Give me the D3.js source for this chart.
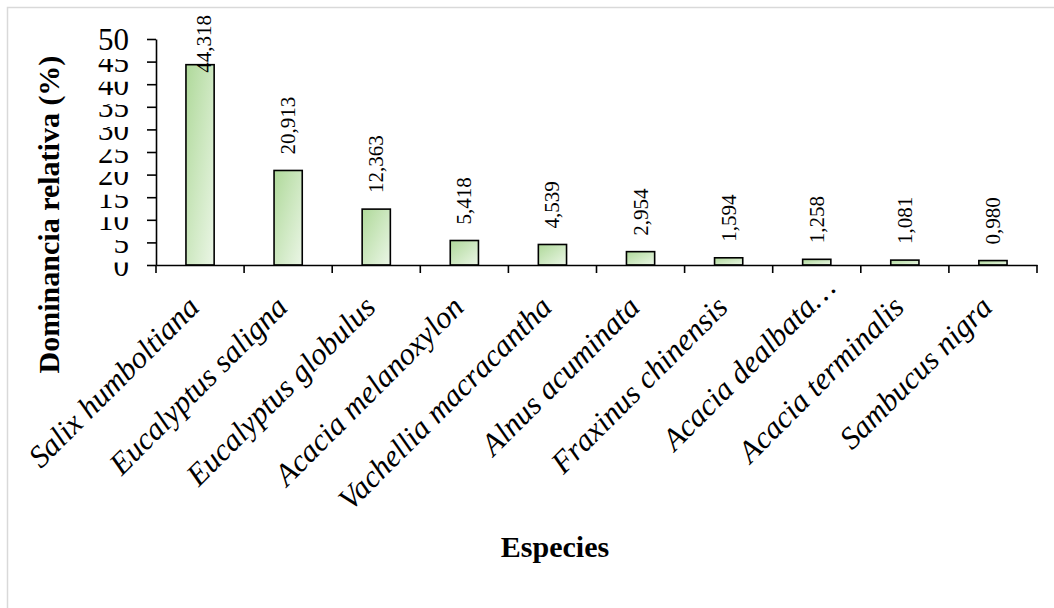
<!DOCTYPE html>
<html>
<head>
<meta charset="utf-8">
<script src="https://cdn.jsdelivr.net/npm/d3@7"></script>
<style>
  html, body { margin: 0; padding: 0; background: #fff; }
  svg { display: block; }
</style>
</head>
<body>
<svg id="chart" width="1054" height="608"></svg>
<script>
const categories = [
  "Salix humboltiana", "Eucalyptus saligna", "Eucalyptus globulus",
  "Acacia melanoxylon", "Vachellia macracantha", "Alnus acuminata",
  "Fraxinus chinensis", "Acacia dealbata …", "Acacia terminalis", "Sambucus nigra"
];
const values = [44.318, 20.913, 12.363, 5.418, 4.539, 2.954, 1.594, 1.258, 1.081, 0.980];
const yTicks = [0, 5, 10, 15, 20, 25, 30, 35, 40, 45, 50];
const yTitle = "Dominancia relativa (%)";
const xTitle = "Especies";

const svg = d3.select("#chart");
const serif = "'Liberation Serif', 'Times New Roman', 'DejaVu Serif', serif";

// outer frame
svg.append("rect")
  .attr("x", 7.5).attr("y", 7.5).attr("width", 1070).attr("height", 640)
  .attr("fill", "#fff").attr("stroke", "#d9d9d9").attr("stroke-width", 1.5);

const x = d3.scaleBand().domain(categories).range([156, 1037])
  .paddingInner(0.68).paddingOuter(0.34);
const y = d3.scaleLinear().domain([0, 50]).range([265, 39]);

const fmt = d3.formatLocale({decimal: ",", thousands: ".", grouping: [3], currency: ["", ""]}).format(".3f");

const defs = svg.append("defs");
const grad = defs.append("linearGradient").attr("id", "barGrad")
  .attr("x1", 0).attr("y1", 0).attr("x2", 1).attr("y2", 1);
grad.append("stop").attr("offset", "0%").attr("stop-color", "#afd99a");
grad.append("stop").attr("offset", "100%").attr("stop-color", "#ebf6e6");

defs.append("clipPath").attr("id", "tickClip")
  .append("rect").attr("x", -200).attr("y", -3).attr("width", 200).attr("height", 30);

// bars
svg.append("g").selectAll("rect").data(values).join("rect")
  .attr("x", (d, i) => x(categories[i]))
  .attr("y", d => y(d))
  .attr("width", x.bandwidth())
  .attr("height", d => y(0) - y(d))
  .attr("fill", "url(#barGrad)")
  .attr("stroke", "#000").attr("stroke-width", 1.6);

// y axis
const yAxis = svg.append("g").attr("transform", "translate(156,0)")
  .call(d3.axisLeft(y).tickValues(yTicks).tickSize(9).tickSizeOuter(0).tickPadding(27));
yAxis.select(".domain").attr("stroke", "#000").attr("stroke-width", 1.6);
yAxis.selectAll(".tick line").attr("stroke", "#000").attr("stroke-width", 1.6);
yAxis.selectAll(".tick text")
  .attr("x", -27).attr("y", 10).attr("dy", null)
  .attr("text-anchor", "end")
  .style("font-family", serif).style("font-size", "31px").attr("fill", "#000")
  .attr("clip-path", d => d === 50 ? null : "url(#tickClip)");

// x axis
const xAxis = svg.append("g").attr("transform", "translate(0,265)")
  .call(d3.axisBottom(x).tickSize(0).tickSizeOuter(0).tickFormat(""));
xAxis.select(".domain").attr("stroke", "#000").attr("stroke-width", 1.6);
xAxis.selectAll(".tick").remove();
const bounds = d3.range(categories.length + 1).map(i => x.range()[0] + i * x.step());
xAxis.selectAll("line.bnd").data(bounds).join("line").attr("class", "bnd")
  .attr("x1", d => d).attr("x2", d => d).attr("y1", 0).attr("y2", 8)
  .attr("stroke", "#000").attr("stroke-width", 1.6);

// category labels
const catG = svg.append("g");
categories.forEach((c, i) => {
  const cx = x(c) + x.bandwidth() / 2;
  const hasEll = c.endsWith(" …");
  const core = hasEll ? c.slice(0, -2) : c;
  const g = catG.append("g").attr("transform", `translate(${cx + 1},309) rotate(-45)`);
  g.append("text").attr("text-anchor", "end")
    .style("font-family", serif).style("font-style", "italic").style("font-size", "31px")
    .attr("fill", "#000").text(core);
  if (hasEll) {
    g.append("text").attr("text-anchor", "start")
      .style("font-family", serif).style("font-style", "italic").style("font-size", "31px")
      .attr("fill", "#000").text(" …");
  }
});

// value labels
const valG = svg.append("g");
values.forEach((v, i) => {
  const cx = x(categories[i]) + x.bandwidth() / 2;
  const t = valG.append("text")
    .style("font-family", serif).style("font-size", "21px").attr("fill", "#000")
    .text(fmt(v));
  const len = t.node().getComputedTextLength();
  let start = y(v) - 16;
  let shift = 0;
  if (start - len < 15) { start = 15 + len; shift = 4; }
  t.attr("transform", `translate(${cx + 7 + shift},${start}) rotate(-90)`);
});

// axis titles
svg.append("text")
  .attr("transform", "translate(59,214.5) rotate(-90)")
  .attr("text-anchor", "middle")
  .style("font-family", serif).style("font-weight", "bold").style("font-size", "30px")
  .attr("fill", "#000").text(yTitle);

svg.append("text")
  .attr("x", 555).attr("y", 557)
  .attr("text-anchor", "middle")
  .style("font-family", serif).style("font-weight", "bold").style("font-size", "30px")
  .attr("fill", "#000").text(xTitle);
</script>
</body>
</html>
